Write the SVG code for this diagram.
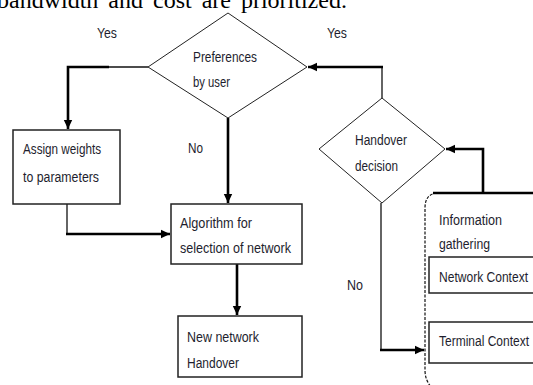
<svg xmlns="http://www.w3.org/2000/svg" width="533" height="385" viewBox="0 0 533 385">
<style>
.lbl{font-family:"Liberation Sans",Arial,sans-serif;font-size:14px;fill:#1e1e2e}
.box{fill:#fff;stroke:#222;stroke-width:1.5}
.dia{fill:#fff;stroke:#222;stroke-width:1}
.thick{fill:none;stroke:#000;stroke-width:2.6}
.thin{fill:none;stroke:#111;stroke-width:1.3}
</style>
<defs>
<marker id="ah" markerUnits="userSpaceOnUse" markerWidth="10" markerHeight="10" viewBox="0 0 10 10" refX="9" refY="5" orient="auto">
<path d="M0,0.8 L9,5 L0,9.2 Z" fill="#000"/>
</marker>
</defs>
<rect width="533" height="385" fill="#fff"/>
<text x="-3" y="8" style="font-family:'Liberation Serif','Times New Roman',serif;font-size:24px;word-spacing:4px" fill="#000">bandwidth and cost are prioritized.</text>

<g id="connectors">
<path class="thin" d="M148,67 H108"/>
<path class="thick" d="M109,67 H68 V129" marker-end="url(#ah)"/>
<path class="thick" d="M228,118 V203" marker-end="url(#ah)"/>
<path class="thin" d="M67,204 V234"/>
<path class="thick" d="M66,234 H170" marker-end="url(#ah)"/>
<path class="thick" d="M237,264 V315" marker-end="url(#ah)"/>
<path class="thin" d="M382,98 V67"/>
<path class="thick" d="M383,67 H308" marker-end="url(#ah)"/>
<path class="thick" d="M483,193 V149 H446" marker-end="url(#ah)"/>
<path class="thin" d="M381,203 V350"/>
<path class="thick" d="M380,350 H424" marker-end="url(#ah)"/>
</g>

<g id="preferences">
<polygon class="dia" points="228,13 307,67 228,118 148,67"/>
<text class="lbl" x="193" y="62" textLength="64" lengthAdjust="spacingAndGlyphs">Preferences</text>
<text class="lbl" x="193" y="87" textLength="37" lengthAdjust="spacingAndGlyphs">by user</text>
</g>
<g id="yes-left"><text class="lbl" x="97" y="38" textLength="20" lengthAdjust="spacingAndGlyphs">Yes</text></g>
<g id="yes-right"><text class="lbl" x="327" y="38" textLength="20" lengthAdjust="spacingAndGlyphs">Yes</text></g>
<g id="no-mid"><text class="lbl" x="188" y="153" textLength="15" lengthAdjust="spacingAndGlyphs">No</text></g>
<g id="no-right"><text class="lbl" x="347" y="290" textLength="16" lengthAdjust="spacingAndGlyphs">No</text></g>

<g id="assign">
<rect class="box" x="13" y="130" width="107" height="74"/>
<text class="lbl" x="23" y="154" textLength="78" lengthAdjust="spacingAndGlyphs">Assign weights</text>
<text class="lbl" x="23" y="182" textLength="76" lengthAdjust="spacingAndGlyphs">to parameters</text>
</g>

<g id="algorithm">
<rect class="box" x="171" y="204" width="131" height="60"/>
<text class="lbl" x="180" y="228" textLength="72" lengthAdjust="spacingAndGlyphs">Algorithm for</text>
<text class="lbl" x="180" y="253" textLength="111" lengthAdjust="spacingAndGlyphs">selection of network</text>
</g>

<g id="newnetwork">
<rect class="box" x="178" y="316" width="124" height="61"/>
<text class="lbl" x="187" y="342" textLength="72" lengthAdjust="spacingAndGlyphs">New network</text>
<text class="lbl" x="187" y="368" textLength="52" lengthAdjust="spacingAndGlyphs">Handover</text>
</g>

<g id="handover">
<polygon class="dia" points="382,98 445,149 382,203 319,149"/>
<text class="lbl" x="355" y="145" textLength="52" lengthAdjust="spacingAndGlyphs">Handover</text>
<text class="lbl" x="355" y="171" textLength="43" lengthAdjust="spacingAndGlyphs">decision</text>
</g>

<g id="info">
<path d="M437,193 Q425,194 425,208 V370 Q425,384 437,392" fill="none" stroke="#111" stroke-width="1.2" stroke-dasharray="3,1.5"/>
<path d="M433,193 H533" fill="none" stroke="#000" stroke-width="2.6"/>
<text class="lbl" x="439" y="225" textLength="63" lengthAdjust="spacingAndGlyphs">Information</text>
<text class="lbl" x="439" y="249" textLength="51" lengthAdjust="spacingAndGlyphs">gathering</text>
</g>
<g id="network-context">
<rect class="box" x="429" y="257" width="110" height="36"/>
<text class="lbl" x="439" y="282" textLength="89" lengthAdjust="spacingAndGlyphs">Network Context</text>
</g>
<g id="terminal-context">
<rect class="box" x="429" y="322" width="110" height="41"/>
<text class="lbl" x="439" y="346" textLength="90" lengthAdjust="spacingAndGlyphs">Terminal Context</text>
</g>
</svg>
